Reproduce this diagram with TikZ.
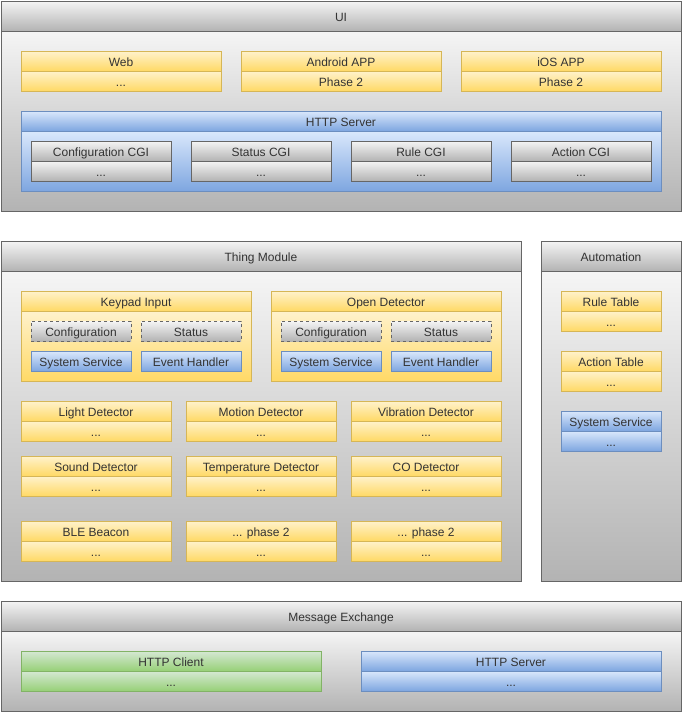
\documentclass[tikz,border=0pt]{standalone}
\usepackage{fontspec}
\setmainfont{Liberation Sans}
\definecolor{greyA}{HTML}{F5F5F5}
\definecolor{greyB}{HTML}{B3B3B3}
\definecolor{greyS}{HTML}{666666}
\definecolor{yelA}{HTML}{FFF2CC}
\definecolor{yelB}{HTML}{FFD966}
\definecolor{yelS}{HTML}{D6B656}
\definecolor{bluA}{HTML}{DAE8FC}
\definecolor{bluB}{HTML}{7EA6E0}
\definecolor{bluS}{HTML}{6C8EBF}
\definecolor{grnA}{HTML}{D5E8D4}
\definecolor{grnB}{HTML}{97D077}
\definecolor{grnS}{HTML}{82B366}
\definecolor{txt}{HTML}{333333}
\tikzset{
  base/.style={rectangle, line width=1pt, inner sep=0pt, outer sep=0pt, anchor=north west,
    font=\fontsize{12}{14}\selectfont, text=txt, text height=11pt, text depth=0.5pt},
  greybox/.style={base, draw=greyS, top color=greyA, bottom color=greyB},
  yelbox/.style={base, draw=yelS, top color=yelA, bottom color=yelB},
  blubox/.style={base, draw=bluS, top color=bluA, bottom color=bluB},
  grnbox/.style={base, draw=grnS, top color=grnA, bottom color=grnB},
  dashbox/.style={greybox, dash pattern=on 3pt off 3pt},
}
% #1 name, #2 style, #3 x, #4 y, #5 width, #6 header height, #7 body height, #8 title, #9 body text
\newcommand\twobox[9]{%
  \node[#2, minimum width=#5pt, minimum height=#6pt] (#1h) at (#3,#4) {#8};
  \node[#2, minimum width=#5pt, minimum height=#7pt] (#1b) at (#3,#4+#6) {#9};
}
\newcommand\onebox[7]{%
  \node[#2, minimum width=#5pt, minimum height=#6pt] (#1) at (#3,#4) {#7};
}
\begin{document}
\begin{tikzpicture}[x=1pt,y=-1pt]
\useasboundingbox (0,0) rectangle (683,713);
% UI
\twobox{ui}{greybox}{1}{1}{680}{30}{180}{UI}{}
\twobox{web}{yelbox}{21}{51}{200}{20}{20}{Web}{...}
\twobox{andr}{yelbox}{241}{51}{200}{20}{20}{Android APP}{Phase 2}
\twobox{ios}{yelbox}{461}{51}{200}{20}{20}{iOS APP}{Phase 2}
\twobox{hs}{blubox}{21}{111}{640}{20}{60}{HTTP Server}{}
\twobox{ccgi}{greybox}{31}{141}{140}{20}{20}{Configuration CGI}{...}
\twobox{scgi}{greybox}{191}{141}{140}{20}{20}{Status CGI}{...}
\twobox{rcgi}{greybox}{351}{141}{140}{20}{20}{Rule CGI}{...}
\twobox{acgi}{greybox}{511}{141}{140}{20}{20}{Action CGI}{...}
% Thing Module
\twobox{tm}{greybox}{1}{241}{520}{30}{310}{Thing Module}{}
\twobox{kp}{yelbox}{21}{291}{230}{20}{70}{Keypad Input}{}
\onebox{kpc}{dashbox}{31}{321}{100}{20}{Configuration}
\onebox{kps}{dashbox}{141}{321}{100}{20}{Status}
\onebox{kpss}{blubox}{31}{351}{100}{20}{System Service}
\onebox{kpeh}{blubox}{141}{351}{100}{20}{Event Handler}
\twobox{od}{yelbox}{271}{291}{230}{20}{70}{Open Detector}{}
\onebox{odc}{dashbox}{281}{321}{100}{20}{Configuration}
\onebox{ods}{dashbox}{391}{321}{100}{20}{Status}
\onebox{odss}{blubox}{281}{351}{100}{20}{System Service}
\onebox{odeh}{blubox}{391}{351}{100}{20}{Event Handler}
\twobox{ld}{yelbox}{21}{401}{150}{20}{20}{Light Detector}{...}
\twobox{md}{yelbox}{186}{401}{150}{20}{20}{Motion Detector}{...}
\twobox{vd}{yelbox}{351}{401}{150}{20}{20}{Vibration Detector}{...}
\twobox{sd}{yelbox}{21}{456}{150}{20}{20}{Sound Detector}{...}
\twobox{td}{yelbox}{186}{456}{150}{20}{20}{Temperature Detector}{...}
\twobox{cd}{yelbox}{351}{456}{150}{20}{20}{CO Detector}{...}
\twobox{ble}{yelbox}{21}{521}{150}{20}{20}{BLE Beacon}{...}
\twobox{ph1}{yelbox}{186}{521}{150}{20}{20}{... phase 2}{...}
\twobox{ph2}{yelbox}{351}{521}{150}{20}{20}{... phase 2}{...}
% Automation
\twobox{au}{greybox}{541}{241}{140}{30}{310}{Automation}{}
\twobox{rt}{yelbox}{561}{291}{100}{20}{20}{Rule Table}{...}
\twobox{at}{yelbox}{561}{351}{100}{20}{20}{Action Table}{...}
\twobox{ass}{blubox}{561}{411}{100}{20}{20}{System Service}{...}
% Message Exchange
\twobox{me}{greybox}{1}{601}{680}{30}{80}{Message Exchange}{}
\twobox{hc}{grnbox}{21}{651}{300}{20}{20}{HTTP Client}{...}
\twobox{hsv}{blubox}{361}{651}{300}{20}{20}{HTTP Server}{...}
\end{tikzpicture}
\end{document}
